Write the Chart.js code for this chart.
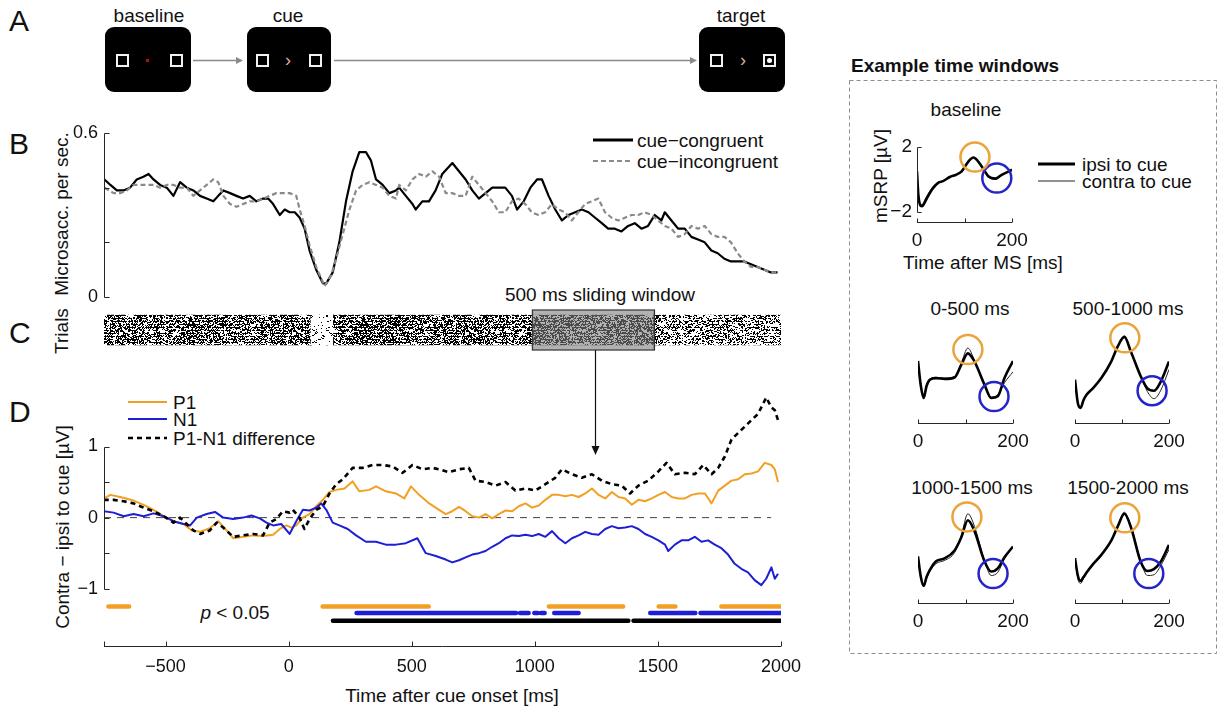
<!DOCTYPE html>
<html lang="en">
<head>
<meta charset="utf-8">
<title>Microsaccade rate and mSRP lateralisation</title>
<script src="https://cdn.jsdelivr.net/npm/chart.js@4.4.1/dist/chart.umd.min.js"></script>
<style>
  html, body { margin: 0; padding: 0; background: #fff; }
  #fig { position: relative; width: 1220px; height: 711px; overflow: hidden;
         font-family: "Liberation Sans", Arial, Helvetica, sans-serif; color: #111; }
  #fig canvas { position: absolute; }
  #fig svg { position: absolute; left: 0; top: 0; }
  .t { position: absolute; white-space: nowrap; font-size: 19px; line-height: 1; transform: translate(-50%, -50%); }
  .t.l { transform: translate(0, -50%); }
  .t.r { transform: translate(-50%, -50%) rotate(-90deg); }
  .t.big { font-size: 30px; transform: translate(0, -50%); }
  .t.b { font-weight: bold; }
  .scr { position: absolute; top: 27px; height: 65px; background: #000; border-radius: 9px; }
  .sq { position: absolute; top: 54px; width: 9px; height: 9px; border: 2px solid #f2f2f2; }
  .fix { position: absolute; left: 146px; top: 59px; width: 3px; height: 3px; background: #b01010; }
  .chev { position: absolute; top: 61px; color: #e0a8a8; font-size: 18px; line-height: 1; transform: translate(-50%, -55%); }
  .probe { position: absolute; left: 767px; top: 58px; width: 5px; height: 5px; background: #fff; border-radius: 50%; }
</style>
</head>
<body>
<div id="fig">
  <svg width="1220" height="711">
    <!-- panel A arrows -->
    <line x1="193" y1="60.5" x2="237" y2="60.5" stroke="#8a8a8a" stroke-width="1.5"/>
    <path d="M236 57 L243 60.5 L236 64 Z" fill="#8a8a8a"/>
    <line x1="334" y1="60.5" x2="691" y2="60.5" stroke="#8a8a8a" stroke-width="1.5"/>
    <path d="M690 57 L697 60.5 L690 64 Z" fill="#8a8a8a"/>
    <!-- sliding window arrow into panel D -->
    <line x1="595.5" y1="350" x2="595.5" y2="447" stroke="#111" stroke-width="1.2"/>
    <path d="M591.5 446 L599.5 446 L595.5 455 Z" fill="#111"/>
    <!-- panel B legend -->
    <line x1="593" y1="140" x2="633" y2="140" stroke="#000" stroke-width="3"/>
    <line x1="593" y1="161" x2="633" y2="161" stroke="#8a8a8a" stroke-width="2.2" stroke-dasharray="5 3"/>
    <!-- panel D legend -->
    <line x1="128" y1="402" x2="167" y2="402" stroke="#f2a024" stroke-width="2"/>
    <line x1="128" y1="419" x2="167" y2="419" stroke="#1e1ed6" stroke-width="2"/>
    <line x1="128" y1="438" x2="167" y2="438" stroke="#000" stroke-width="2.6" stroke-dasharray="5 4"/>
    <!-- example windows frame and legend -->
    <rect x="849.5" y="80.5" width="367" height="573" fill="none" stroke="#8c8c8c" stroke-dasharray="4 3"/>
    <line x1="1038" y1="164" x2="1075" y2="164" stroke="#000" stroke-width="3"/>
    <line x1="1038" y1="181" x2="1075" y2="181" stroke="#222" stroke-width="1.1"/>
  </svg>

  <!-- panel A schematic -->
  <div class="scr" style="left:105px;width:86px"></div>
  <div class="sq" style="left:116px"></div><div class="fix"></div><div class="sq" style="left:170px"></div>
  <div class="scr" style="left:247px;width:84px"></div>
  <div class="sq" style="left:256px"></div><div class="chev" style="left:288px">›</div><div class="sq" style="left:309px"></div>
  <div class="scr" style="left:699px;width:86px"></div>
  <div class="sq" style="left:710px"></div><div class="chev" style="left:743px">›</div><div class="sq" style="left:763px"></div><div class="probe"></div>

  <div class="t big" style="left:9px;top:21px">A</div>
  <div class="t big" style="left:9px;top:144px">B</div>
  <div class="t big" style="left:9px;top:333px">C</div>
  <div class="t big" style="left:9px;top:412px">D</div>

  <div class="t" style="left:149px;top:15px">baseline</div>
  <div class="t" style="left:288px;top:15px">cue</div>
  <div class="t" style="left:741px;top:15px">target</div>

  <div class="t r" style="left:61px;top:214px">Microsacc. per sec.</div>
  <div class="t l" style="left:637px;top:140px">cue−congruent</div>
  <div class="t l" style="left:637px;top:161px">cue−incongruent</div>

  <div class="t r" style="left:61px;top:331px">Trials</div>
  <div class="t" style="left:600px;top:294px">500 ms sliding window</div>

  <div class="t l" style="left:173px;top:402px">P1</div>
  <div class="t l" style="left:173px;top:419px">N1</div>
  <div class="t l" style="left:173px;top:438px">P1-N1 difference</div>
  <div class="t r" style="left:62px;top:527px">Contra − ipsi to cue [µV]</div>
  <div class="t" style="left:235px;top:612px"><i>p</i> &lt; 0.05</div>
  <div class="t" style="left:452px;top:695px">Time after cue onset [ms]</div>

  <div class="t l b" style="left:851px;top:65px">Example time windows</div>
  <div class="t" style="left:966px;top:109px">baseline</div>
  <div class="t r" style="left:880px;top:176px">mSRP [µV]</div>
  <div class="t" style="left:983px;top:262px">Time after MS [ms]</div>
  <div class="t l" style="left:1082px;top:164px">ipsi to cue</div>
  <div class="t l" style="left:1082px;top:181px">contra to cue</div>
  <div class="t" style="left:970px;top:308px">0-500 ms</div>
  <div class="t" style="left:1128px;top:308px">500-1000 ms</div>
  <div class="t" style="left:972px;top:487px">1000-1500 ms</div>
  <div class="t" style="left:1128px;top:487px">1500-2000 ms</div>

  <canvas id="cB"></canvas>
  <canvas id="cC"></canvas>
  <canvas id="cD"></canvas>
  <canvas id="cBase"></canvas>
  <canvas id="cW1"></canvas>
  <canvas id="cW2"></canvas>
  <canvas id="cW3"></canvas>
  <canvas id="cW4"></canvas>
</div>

<script>
// ---- panel B: microsaccade rate (per s), time in ms after cue onset ----
const bCongT = [-748,-724,-698,-671,-644,-617,-590,-569,-549,-522,-495,-468,-441,-414,-387,-360,-333,-306,-286,-265,-238,-212,-185,-158,-131,-104,-83,-63,-36,-16,4,25,45,65,85,112,139,153,179,206,233,260,287,314,334,355,382,409,436,449,476,503,516,543,570,597,624,665,692,719,746,773,800,827,854,880,907,928,955,982,1009,1029,1056,1083,1110,1137,1164,1191,1218,1245,1272,1298,1325,1352,1379,1406,1433,1460,1487,1514,1528,1555,1582,1609,1636,1663,1690,1717,1743,1770,1797,1824,1851,1878,1905,1932,1959,1986];
const bCongV = [0.43,0.41,0.39,0.39,0.40,0.43,0.44,0.45,0.43,0.41,0.40,0.37,0.42,0.40,0.39,0.37,0.36,0.35,0.37,0.39,0.38,0.37,0.36,0.37,0.35,0.36,0.36,0.34,0.30,0.32,0.31,0.31,0.29,0.25,0.17,0.10,0.05,0.05,0.09,0.20,0.35,0.46,0.53,0.53,0.50,0.43,0.41,0.38,0.39,0.40,0.37,0.34,0.32,0.35,0.35,0.39,0.45,0.49,0.46,0.43,0.39,0.36,0.38,0.40,0.40,0.40,0.37,0.32,0.35,0.40,0.43,0.43,0.37,0.32,0.28,0.30,0.31,0.32,0.31,0.29,0.27,0.25,0.25,0.24,0.26,0.27,0.25,0.26,0.30,0.28,0.31,0.28,0.25,0.25,0.22,0.21,0.20,0.17,0.16,0.14,0.13,0.13,0.13,0.12,0.11,0.10,0.09,0.09];
const bIncT = [-748,-711,-684,-657,-630,-603,-576,-549,-522,-495,-468,-441,-414,-387,-360,-333,-306,-286,-265,-238,-212,-185,-158,-131,-104,-77,-50,-23,4,31,45,65,85,112,146,173,193,220,247,274,301,328,355,382,409,436,449,476,503,530,557,584,611,638,665,692,719,746,773,800,827,854,880,907,934,961,988,1015,1042,1069,1096,1123,1150,1177,1204,1231,1258,1285,1312,1339,1366,1393,1420,1447,1474,1501,1528,1555,1582,1609,1636,1663,1690,1717,1743,1770,1797,1824,1851,1878,1905,1932,1959,1986];
const bIncV = [0.40,0.38,0.38,0.39,0.41,0.41,0.41,0.41,0.40,0.41,0.41,0.40,0.40,0.37,0.39,0.41,0.43,0.42,0.37,0.34,0.33,0.34,0.35,0.35,0.36,0.37,0.38,0.38,0.38,0.37,0.32,0.26,0.19,0.11,0.04,0.08,0.14,0.23,0.32,0.39,0.41,0.42,0.41,0.40,0.37,0.36,0.41,0.39,0.43,0.45,0.44,0.46,0.44,0.38,0.38,0.37,0.37,0.44,0.41,0.38,0.35,0.31,0.31,0.35,0.36,0.34,0.31,0.30,0.31,0.34,0.32,0.31,0.28,0.31,0.34,0.35,0.36,0.31,0.29,0.28,0.29,0.30,0.30,0.31,0.30,0.28,0.26,0.25,0.22,0.23,0.26,0.25,0.26,0.23,0.22,0.22,0.20,0.16,0.13,0.11,0.11,0.10,0.09,0.09];
const bTicks = [0, 0.2, 0.4, 0.6];
const bTickLabels = ["0", "", "", "0.6"];

// ---- panel C: raster spans (ms) and relative event density ----
const rasterSpans = [[-750, 88], [88, 182], [182, 500], [500, 1500], [1500, 2000]];
const rasterDensity = [0.60, 0.07, 0.70, 0.62, 0.38];
const slidingWindow = [988, 1488];

// ---- panel D: contra - ipsi difference (µV) ----
const p1T = [-751,-724,-684,-630,-589,-549,-508,-468,-427,-394,-360,-320,-286,-252,-225,-185,-144,-104,-63,-36,-9,11,31,58,85,112,139,166,193,227,260,287,328,355,395,436,470,497,530,571,611,638,665,692,719,746,773,800,827,854,881,908,935,962,989,1016,1043,1070,1097,1124,1151,1178,1205,1232,1259,1286,1313,1340,1367,1394,1421,1448,1475,1502,1529,1556,1583,1610,1637,1664,1691,1718,1745,1772,1799,1826,1853,1880,1907,1934,1961,1975,1988];
const p1V = [0.27,0.32,0.29,0.24,0.18,0.11,0.02,-0.05,-0.09,-0.18,-0.20,-0.15,-0.05,-0.18,-0.29,-0.27,-0.25,-0.26,-0.24,-0.16,-0.11,-0.14,-0.11,0.00,0.05,0.16,0.25,0.36,0.39,0.41,0.51,0.37,0.39,0.44,0.37,0.34,0.27,0.44,0.32,0.20,0.11,0.05,0.09,0.15,0.09,0.02,0.00,0.05,-0.01,0.05,0.10,0.09,0.16,0.20,0.14,0.17,0.25,0.32,0.32,0.30,0.32,0.29,0.34,0.41,0.32,0.27,0.36,0.29,0.27,0.18,0.25,0.23,0.27,0.32,0.36,0.29,0.27,0.27,0.32,0.34,0.34,0.20,0.38,0.45,0.52,0.54,0.61,0.62,0.65,0.77,0.74,0.68,0.50];
const n1T = [-751,-711,-670,-630,-589,-549,-508,-468,-427,-400,-373,-333,-299,-266,-225,-185,-151,-117,-90,-63,-30,4,31,58,85,112,132,153,179,206,240,274,314,355,395,436,476,523,557,598,638,665,692,719,746,773,800,827,854,881,908,935,962,989,1016,1043,1070,1097,1124,1151,1178,1205,1232,1259,1286,1313,1340,1367,1394,1421,1448,1475,1502,1529,1542,1569,1596,1623,1650,1677,1704,1731,1758,1785,1812,1839,1866,1893,1920,1940,1961,1975,1988];
const n1V = [0.09,0.07,0.02,0.05,0.02,0.06,0.02,-0.05,-0.09,-0.11,0.00,0.05,0.08,0.00,-0.02,0.00,0.03,-0.01,-0.07,-0.11,-0.09,-0.23,-0.05,0.11,0.10,0.14,0.20,0.11,-0.07,-0.11,-0.16,-0.25,-0.34,-0.34,-0.38,-0.38,-0.36,-0.29,-0.50,-0.54,-0.59,-0.63,-0.60,-0.56,-0.52,-0.50,-0.47,-0.41,-0.36,-0.29,-0.25,-0.26,-0.24,-0.26,-0.23,-0.27,-0.19,-0.29,-0.36,-0.29,-0.25,-0.20,-0.23,-0.24,-0.16,-0.12,-0.15,-0.14,-0.12,-0.16,-0.23,-0.27,-0.32,-0.38,-0.47,-0.38,-0.32,-0.32,-0.27,-0.34,-0.32,-0.38,-0.43,-0.52,-0.65,-0.72,-0.77,-0.88,-0.95,-0.86,-0.70,-0.86,-0.79];
const diffT = [-751,-711,-670,-630,-589,-549,-508,-468,-441,-414,-387,-360,-320,-292,-266,-225,-185,-144,-104,-77,-50,-23,4,17,44,64,85,112,139,166,193,220,260,301,341,382,422,463,503,544,584,611,651,692,732,759,800,840,881,921,962,1002,1043,1083,1110,1151,1191,1232,1272,1313,1353,1387,1421,1461,1502,1535,1569,1610,1650,1684,1718,1745,1772,1799,1826,1853,1880,1907,1940,1961,1975,1988];
const diffV = [0.25,0.25,0.23,0.20,0.14,0.09,0.02,-0.07,0.00,-0.09,-0.18,-0.23,-0.18,-0.07,-0.14,-0.27,-0.25,-0.23,-0.25,-0.07,-0.02,0.09,0.07,0.11,0.00,-0.16,-0.02,0.11,0.16,0.34,0.47,0.54,0.70,0.70,0.74,0.74,0.72,0.63,0.74,0.68,0.70,0.68,0.64,0.68,0.70,0.52,0.50,0.45,0.50,0.38,0.41,0.38,0.47,0.56,0.68,0.61,0.56,0.61,0.52,0.47,0.45,0.34,0.45,0.52,0.65,0.77,0.61,0.63,0.61,0.74,0.61,0.70,0.86,1.10,1.19,1.28,1.37,1.46,1.69,1.55,1.51,1.37];
const zeroSpan = [-750, 1960];
const sigP1 = [[-732, -648], [138, 569], [1057, 1359], [1503, 1571], [1758, 2000]];
const sigN1 = [[276, 924], [940, 975], [998, 1012], [1025, 1040], [1079, 1178], [1469, 1652], [1673, 2000]];
const sigDiff = [[180, 1380], [1401, 2000]];
const timeTicks = [-500, 0, 500, 1000, 1500, 2000];
const dTicks = [-1, -0.5, 0, 0.5, 1];
const dTickLabels = ["−1", "", "0", "", "1"];

// ---- right column: mSRP waveforms (µV) vs time after microsaccade (ms) ----
const baseT = [0,3,10,20,32,45,55,69,83,94,108,119,129,143,150,165,179,200];
const baseIpsi = [0.5,-1.0,-1.65,-1.2,-0.6,-0.2,-0.1,0.15,0.3,0.5,1.1,1.35,1.1,0.5,0.2,0.05,0.3,0.6];
const baseContra = [0.4,-1.1,-1.55,-1.05,-0.5,-0.15,-0.1,0.15,0.3,0.55,1.15,1.35,1.05,0.45,0.15,0.0,0.25,0.55];
const winT = [0,6,12,18,25,38,56,77,91,105,119,140,154,168,182,200];
const w1Ipsi = [0.98,-0.6,-1.36,-0.6,-0.2,-0.1,-0.15,-0.06,0.73,1.46,0.94,-0.52,-1.36,-1.25,-0.1,0.98];
const w1Contra = [0.9,-0.5,-1.3,-0.5,-0.15,-0.05,-0.1,0.0,0.85,1.8,1.0,-0.45,-1.3,-1.15,-0.4,0.3];
const w2Ipsi = [-0.2,-1.67,-1.98,-1.5,-1.14,-0.75,-0.1,0.94,1.9,2.5,1.56,0.0,-0.75,-0.9,-0.35,0.94];
const w2Contra = [-0.2,-1.6,-1.95,-1.45,-1.1,-0.7,-0.1,0.9,1.95,2.55,1.6,0.0,-0.95,-1.4,-0.9,0.44];
const w3Ipsi = [0,-1.3,-1.85,-1.3,-0.85,-0.3,-0.12,0.38,1.2,2.29,1.6,-0.3,-0.95,-0.75,-0.05,0.63];
const w3Contra = [0,-1.35,-1.9,-1.4,-0.95,-0.45,-0.25,0.25,1.3,2.7,1.9,-0.25,-1.2,-1.0,-0.15,0.6];
const w4Ipsi = [-0.1,-1.2,-1.55,-1.3,-1.0,-0.5,0.1,1.0,1.9,2.7,1.85,-0.35,-0.92,-0.8,-0.35,0.73];
const w4Contra = [-0.1,-1.4,-1.7,-1.4,-1.05,-0.55,0.05,0.95,1.95,2.8,1.9,-0.3,-1.2,-1.15,-0.6,0.44];
// P1 / N1 marker positions [ms, µV]: baseline, 0-500, 500-1000, 1000-1500, 1500-2000
const p1Marks = [[122, 1.38], [105, 1.70], [106, 2.44], [103, 2.50], [106, 2.44]];
const n1Marks = [[168, 0.09], [160, -1.27], [164, -0.90], [158, -1.08], [157, -1.08]];
const msTicks = [0, 100, 200];
const msTickLabels = ["0", "", "200"];

const ORANGE = "#f2a024";
const BLUE = "#1e1ed6";

Chart.defaults.font.family = '"Liberation Sans", Arial, Helvetica, sans-serif';
Chart.defaults.font.size = 18;
Chart.defaults.color = "#111";

const pts = (ts, vs) => ts.map((t, i) => ({ x: t, y: vs[i] }));
const rows = (spans, level) => spans.flatMap(([a, b]) => [{ x: a, y: level }, { x: b, y: level }, { x: b, y: null }]);

/** place a canvas at page box {x,y,w,h} */
function mount(id, box) {
  const c = document.getElementById(id);
  c.width = box.w;
  c.height = box.h;
  c.style.left = box.x + "px";
  c.style.top = box.y + "px";
  return c;
}

/** layout padding that puts the chart area on the page rect {l,r,t,b} */
function padFor(box, area, yW, xH) {
  return {
    left: area.l - box.x - yW,
    right: box.x + box.w - area.r,
    top: area.t - box.y,
    bottom: box.y + box.h - area.b - xH,
  };
}

function linAxis(min, max, o = {}) {
  const show = !!o.show;
  const axis = {
    type: "linear", min, max, bounds: "data", display: show,
    grid: { display: false, drawTicks: false },
    border: { display: false },
    ticks: {
      display: show, autoSkip: false, maxRotation: 0, minRotation: 0,
      padding: o.pad ?? 8, font: { size: o.font ?? 18 }, color: "#111",
      callback: (v, i) => (o.labels ? o.labels[i] ?? "" : String(v)),
    },
  };
  if (o.ticks) axis.afterBuildTicks = (s) => { s.ticks = o.ticks.map((v) => ({ value: v })); };
  if (show) axis.afterFit = (s) => { if (s.isHorizontal()) s.height = o.size; else s.width = o.size; };
  return axis;
}

// MATLAB-like axes: lines only over the given range, ticks pointing inward
function matAxes(spec) {
  return {
    id: "matAxes",
    afterDatasetsDraw(chart) {
      const { ctx, chartArea: a, scales } = chart;
      const len = spec.tick || 5;
      ctx.save();
      ctx.strokeStyle = "#262626";
      ctx.lineWidth = 1;
      ctx.beginPath();
      if (spec.y) {
        const x = Math.round(a.left) + 0.5;
        ctx.moveTo(x, Math.round(scales.y.getPixelForValue(spec.y.from)) + 0.5);
        ctx.lineTo(x, Math.round(scales.y.getPixelForValue(spec.y.to)) + 0.5);
        spec.y.ticks.forEach((v) => {
          const y = Math.round(scales.y.getPixelForValue(v)) + 0.5;
          ctx.moveTo(x, y);
          ctx.lineTo(x + len, y);
        });
      }
      if (spec.x) {
        const y = Math.round(a.bottom) - 0.5;
        ctx.moveTo(scales.x.getPixelForValue(spec.x.from), y);
        ctx.lineTo(scales.x.getPixelForValue(spec.x.to), y);
        spec.x.ticks.forEach((v) => {
          const x = Math.round(scales.x.getPixelForValue(v)) + 0.5;
          ctx.moveTo(x, y);
          ctx.lineTo(x, y - len);
        });
      }
      ctx.stroke();
      ctx.restore();
    },
  };
}

// speckle fill for the raster, darker for higher event density
function speckle(density) {
  const w = 173, h = 30;
  const c = document.createElement("canvas");
  c.width = w;
  c.height = h;
  const g = c.getContext("2d");
  g.fillStyle = "#000";
  let s = 20011;
  const n = Math.round(w * h * density);
  for (let i = 0; i < n; i++) {
    s = (s * 16807) % 2147483647;
    const x = s % w;
    s = (s * 16807) % 2147483647;
    const y = s % h;
    g.fillRect(x, y, s % 3 === 0 ? 2 : 1, 1);
  }
  return g.createPattern(c, "repeat");
}

const base = {
  responsive: false,
  animation: false,
  events: [],
  elements: { point: { radius: 0 }, line: { tension: 0, borderJoinStyle: "round" } },
  plugins: { legend: { display: false }, tooltip: { enabled: false } },
};

// ---------- panel B ----------
const boxB = { x: 30, y: 115, w: 780, h: 200 };
const areaB = { l: 104, r: 781, t: 133, b: 297 };
new Chart(mount("cB", boxB), {
  type: "line",
  data: {
    datasets: [
      { data: pts(bIncT, bIncV), borderColor: "#8a8a8a", borderWidth: 2.2, borderDash: [5, 3] },
      { data: pts(bCongT, bCongV), borderColor: "#000", borderWidth: 2.2 },
    ],
  },
  options: {
    ...base,
    layout: { padding: padFor(boxB, areaB, 50, 0) },
    scales: {
      x: linAxis(-750, 2000),
      y: linAxis(0, 0.6, { show: true, ticks: bTicks, labels: bTickLabels, size: 50, pad: 6 }),
    },
  },
  plugins: [matAxes({ y: { from: 0, to: 0.6, ticks: bTicks } })],
});

// ---------- panel C ----------
const boxC = { x: 100, y: 300, w: 700, h: 60 };
const areaC = { l: 104, r: 781, t: 305, b: 355 };
new Chart(mount("cC", boxC), {
  type: "bar",
  data: {
    labels: ["trials"],
    datasets: [
      {
        data: [slidingWindow], backgroundColor: "rgba(125,125,125,0.6)", borderColor: "#222",
        borderWidth: 1, borderSkipped: false, barThickness: 41, grouped: false,
      },
      ...rasterSpans.map((span, i) => ({
        data: [span], backgroundColor: speckle(rasterDensity[i]), borderWidth: 0,
        barThickness: 30, grouped: false,
      })),
    ],
  },
  options: {
    ...base,
    indexAxis: "y",
    layout: { padding: padFor(boxC, areaC, 0, 0) },
    scales: {
      x: linAxis(-750, 2000),
      y: { type: "category", display: false, ticks: { display: false } },
    },
  },
});

// ---------- panel D ----------
const boxD = { x: 30, y: 370, w: 780, h: 310 };
const areaD = { l: 104, r: 781, t: 380, b: 647 };
new Chart(mount("cD", boxD), {
  type: "line",
  data: {
    datasets: [
      { data: pts(diffT, diffV), borderColor: "#000", borderWidth: 2.6, borderDash: [5, 4], order: 0 },
      { data: pts(n1T, n1V), borderColor: BLUE, borderWidth: 2, order: 1 },
      { data: pts(p1T, p1V), borderColor: ORANGE, borderWidth: 2, order: 2 },
      { data: zeroSpan.map((t) => ({ x: t, y: 0 })), borderColor: "#444", borderWidth: 1, borderDash: [7, 6], order: 3 },
      { data: rows(sigP1, -1.25), borderColor: ORANGE, borderWidth: 4.5, borderCapStyle: "round", order: 4 },
      { data: rows(sigN1, -1.34), borderColor: BLUE, borderWidth: 4.5, borderCapStyle: "round", order: 4 },
      { data: rows(sigDiff, -1.45), borderColor: "#000", borderWidth: 4.5, borderCapStyle: "round", order: 4 },
    ],
  },
  options: {
    ...base,
    layout: { padding: padFor(boxD, areaD, 50, 30) },
    scales: {
      x: linAxis(-750, 2000, {
        show: true, ticks: timeTicks, size: 30, pad: 9,
        labels: timeTicks.map((v) => String(v).replace("-", "−")),
      }),
      y: linAxis(-1.82, 1.84, { show: true, ticks: dTicks, labels: dTickLabels, size: 50, pad: 6 }),
    },
  },
  plugins: [matAxes({
    y: { from: -1, to: 1, ticks: dTicks },
    x: { from: -750, to: 2000, ticks: [-750, ...timeTicks] },
  })],
});

// ---------- right column ----------
function waveChart(id, box, area, ipsiT, ipsi, contra, k, yRange, withY) {
  const ds = [
    {
      data: [{ x: p1Marks[k][0], y: p1Marks[k][1] }], showLine: false, pointRadius: 14.5,
      pointBorderWidth: 2.5, pointBorderColor: "#eba33c", pointBackgroundColor: "rgba(0,0,0,0)", clip: false, order: 0,
    },
    {
      data: [{ x: n1Marks[k][0], y: n1Marks[k][1] }], showLine: false, pointRadius: 14.5,
      pointBorderWidth: 2.5, pointBorderColor: "#2424c8", pointBackgroundColor: "rgba(0,0,0,0)", clip: false, order: 0,
    },
    { data: pts(ipsiT, ipsi), borderColor: "#000", borderWidth: 2.6, cubicInterpolationMode: "monotone", order: 1 },
    { data: pts(ipsiT, contra), borderColor: "#222", borderWidth: 1, cubicInterpolationMode: "monotone", order: 2 },
  ];
  const yW = withY ? 30 : 0;
  const spec = { x: { from: 0, to: 200, ticks: msTicks }, tick: 4 };
  if (withY) spec.y = { from: -2, to: 2, ticks: [-2, 2] };
  new Chart(mount(id, box), {
    type: "line",
    data: { datasets: ds },
    options: {
      ...base,
      layout: { padding: padFor(box, area, yW, 24) },
      scales: {
        x: linAxis(0, 200, { show: true, ticks: msTicks, labels: msTickLabels, size: 24, pad: 6, font: 19 }),
        y: withY
          ? linAxis(yRange[0], yRange[1], { show: true, ticks: [-2, 2], labels: ["−2", "2"], size: yW, pad: 5, font: 19 })
          : linAxis(yRange[0], yRange[1]),
      },
    },
    plugins: [matAxes(spec)],
  });
}

waveChart("cBase", { x: 880, y: 126, w: 160, h: 131 }, { l: 917, r: 1012, t: 147, b: 223 },
  baseT, baseIpsi, baseContra, 0, [-2.68, 2], true);
waveChart("cW1", { x: 890, y: 312, w: 150, h: 150 }, { l: 918, r: 1013, t: 327, b: 424 },
  winT, w1Ipsi, w1Contra, 1, [-3, 3], false);
waveChart("cW2", { x: 1047, y: 312, w: 150, h: 150 }, { l: 1075, r: 1169, t: 327, b: 424 },
  winT, w2Ipsi, w2Contra, 2, [-3, 3], false);
waveChart("cW3", { x: 890, y: 492, w: 150, h: 150 }, { l: 918, r: 1013, t: 507, b: 604 },
  winT, w3Ipsi, w3Contra, 3, [-3, 3], false);
waveChart("cW4", { x: 1047, y: 492, w: 150, h: 150 }, { l: 1075, r: 1169, t: 507, b: 604 },
  winT, w4Ipsi, w4Contra, 4, [-3, 3], false);
</script>
</body>
</html>
